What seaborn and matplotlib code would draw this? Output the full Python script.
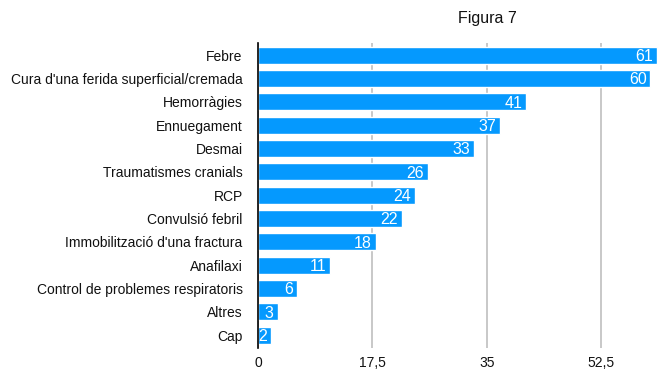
import matplotlib
matplotlib.use("Agg")
import matplotlib.pyplot as plt
import seaborn as sns
import pandas as pd

categories = [
    "Febre",
    "Cura d'una ferida superficial/cremada",
    "Hemorràgies",
    "Ennuegament",
    "Desmai",
    "Traumatismes cranials",
    "RCP",
    "Convulsió febril",
    "Immobilització d'una fractura",
    "Anafilaxi",
    "Control de problemes respiratoris",
    "Altres",
    "Cap",
]
values = [61, 60, 41, 37, 33, 26, 24, 22, 18, 11, 6, 3, 2]
tick_values = [0, 17.5, 35, 52.5]
tick_labels = ["0", "17,5", "35", "52,5"]

df = pd.DataFrame({"cat": categories, "val": values})

sns.set_theme(style="white")
plt.rcParams["font.family"] = ["Liberation Sans", "DejaVu Sans"]

fig = plt.figure(figsize=(6.61, 3.69), dpi=100)
ax = fig.add_axes([258 / 661, 1 - 348 / 369, (659 - 258) / 661, (348 - 43) / 369])

bar_color = "#0599FE"
sns.barplot(data=df, x="val", y="cat", orient="h", color=bar_color,
            saturation=1, width=0.74, ax=ax, zorder=3)

ax.set_xlim(0, 61.3)
ax.set_ylim(12.55, -0.52)
ax.set_xticks(tick_values)
ax.set_xticklabels(tick_labels, fontsize=10, color="#111111")
ax.tick_params(axis="y", labelsize=10, colors="#111111", length=0, pad=11)
ax.tick_params(axis="x", length=0, pad=6)
ax.set_xlabel("")
ax.set_ylabel("")

ax.grid(axis="x", color="#C8C8C8", linewidth=1.4, zorder=0)
ax.grid(axis="y", visible=False)
for s in ["top", "right", "bottom"]:
    ax.spines[s].set_visible(False)
ax.spines["left"].set_color("black")
ax.spines["left"].set_linewidth(1.2)
ax.spines["left"].set_zorder(5)

for i, v in enumerate(values):
    ax.text(v - 0.6, i, str(v), ha="right", va="center_baseline",
            color="white", fontsize=11.5, zorder=6)

fig.text(487 / 661, 1 - 18 / 369, "Figura 7", ha="center", va="center",
         fontsize=11.5, color="#111111")

fig.savefig("out.png", dpi=100)
